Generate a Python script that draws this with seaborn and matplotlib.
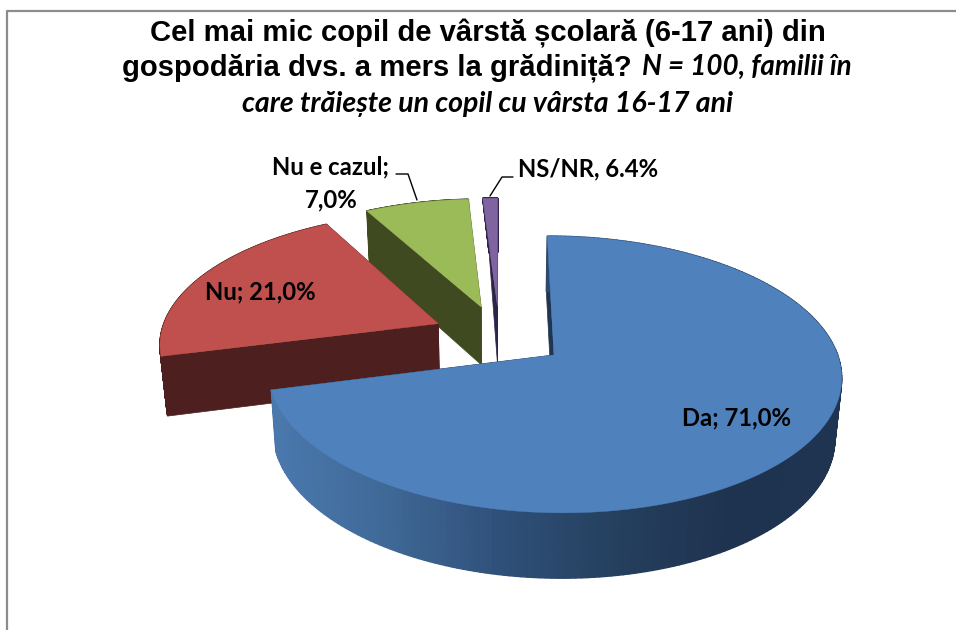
import numpy as np
import pandas as pd
import seaborn as sns
import matplotlib.pyplot as plt

categories = ['Da', 'Nu', 'Nu e cazul', 'NS/NR']
shares = [71.0, 21.0, 7.0, 1.0]
top_colors = ['#4f81bd', '#c0504d', '#9bbb59', '#8064a2']
wall_colors = ['#1f3552', '#4d1f1e', '#404a20', '#2e2447']
rim_skew = [0, 0, 0, 6]

title_line1 = 'Cel mai mic copil de vârstă școlară (6-17 ani) din'
title_line2a = 'gospodăria dvs. a mers la grădiniță?'
title_line2b = 'N = 100, familii în'
title_line3 = 'care trăiește un copil cu vârsta 16-17 ani'

# the disc, worked out from the picture (pixels)
CX, CY = 499.5, 335.7
RX, RY = 278, 130.3
PERSP = 0.138
EXPLODE = 0.236
EXPLODE_X = 1.03


def project(u, v, lower=False):
    """Disc coordinates to pixels, lower=True gives the bottom face."""
    s = 1 / (1 + PERSP * v)
    x = CX + RX * u * s
    y = CY - RY * v * s
    if lower:
        x = CX + (x - CX) * 0.98
        y = y + 25 + 34 * s
    return x, y


def slice_table():
    df = pd.DataFrame({'cat': categories, 'share': shares, 'skew': rim_skew,
                       'top': top_colors, 'wall': wall_colors})
    df['end'] = df['share'].cumsum() / df['share'].sum() * 2 * np.pi
    df['start'] = df['end'].shift(1, fill_value=0.0)
    return df


def draw_slice(ax, row, rim_palette=None):
    mid = (row.start + row.end) / 2
    u0 = EXPLODE * EXPLODE_X * np.sin(mid)
    v0 = EXPLODE * np.cos(mid)
    th = np.linspace(row.start, row.end, 240)
    u = u0 + np.sin(th)
    v = v0 + np.cos(th)
    tx, ty = project(u, v)
    bx, by = project(u, v, lower=True)
    # thin slice: the lower edge leans towards its end side
    bx = bx + row.skew * np.linspace(1, 0, len(th))
    ax0, ay0 = project(u0, v0)
    bx0, by0 = project(u0, v0, lower=True)

    # radial walls
    ax.fill([ax0, tx[0], bx[0], bx0], [ay0, ty[0], by[0], by0],
            color=row.wall, lw=0.5, zorder=row.z)
    ax.fill([ax0, tx[-1], bx[-1], bx0], [ay0, ty[-1], by[-1], by0],
            color=row.wall, lw=0.5, zorder=row.z)
    # rim, cut in small pieces when it has a gradient
    for i in range(len(th) - 1):
        c = row.wall
        if rim_palette is not None:
            k = (tx[i] - 273) / (846 - 273)
            k = int(np.clip(k, 0, 0.999) * len(rim_palette))
            c = rim_palette[k]
        ax.fill([tx[i], tx[i + 1], bx[i + 1], bx[i]],
                [ty[i], ty[i + 1], by[i + 1], by[i]],
                color=c, lw=1, zorder=row.z + 0.1)
    ax.fill(np.r_[ax0, tx], np.r_[ay0, ty], color=row.top, lw=0.3,
            zorder=row.z + 0.2)


def draw_title(ax):
    bold = dict(fontsize=21.1, fontweight='bold', family='Liberation Sans',
                va='baseline', color='black')
    note = dict(fontweight='bold', style='italic', family='Lato',
                va='baseline', color='black')
    ax.text(488, 42, title_line1, ha='center', **bold)
    ax.text(122, 75, title_line2a, ha='left', **bold)
    ax.text(642, 75, title_line2b, ha='left', fontsize=20, **note)
    ax.text(487.5, 112, title_line3, ha='center', fontsize=20.5, **note)


def draw_labels(ax):
    font = dict(fontsize=17.2, fontweight='bold', family='Lato',
                va='center', zorder=10, color='black')
    ax.text(331, 167, 'Nu e cazul;', ha='center', **font)
    ax.text(331, 200, '7,0%', ha='center', **font)
    ax.text(518, 169, 'NS/NR, 6.4%', ha='left', **font)
    ax.text(260, 292, 'Nu; 21,0%', ha='center', **font)
    ax.text(737, 418, 'Da; 71,0%', ha='center', **font)
    ax.plot([396, 408, 417], [174, 174, 200], color='black', lw=1, zorder=10)
    ax.plot([513, 502, 490], [177, 177, 196], color='black', lw=1, zorder=10)


def main():
    sns.set_theme(style='white')
    fig = plt.figure(figsize=(9.56, 6.30), dpi=100)
    ax = fig.add_axes([0, 0, 1, 1])
    ax.set_xlim(0, 956)
    ax.set_ylim(630, 0)
    ax.axis('off')

    # chart frame, only left and top show in the picture
    ax.plot([7.5, 7.5, 956], [630, 11, 11], color='#8c8c8c', lw=1.6)

    df = slice_table()
    # painter's order, back slices first
    df['z'] = [4, 3, 2, 1]
    rim_palette = sns.blend_palette(
        ['#4a78ad', '#3f6896', '#2f5079', '#25405f', '#1e3350', '#1f3450'],
        n_colors=120)
    for row in df.itertuples():
        draw_slice(ax, row, rim_palette if row.cat == 'Da' else None)

    draw_title(ax)
    draw_labels(ax)
    fig.savefig('out.png', dpi=100)


if __name__ == "__main__":
    main()
